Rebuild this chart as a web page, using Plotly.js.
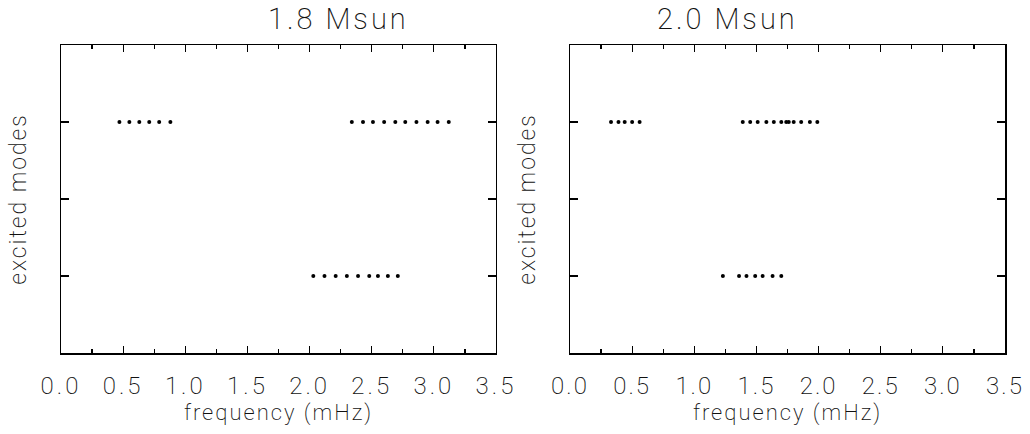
<!DOCTYPE html>
<html>
<head>
<meta charset="utf-8">
<script src="https://cdn.plot.ly/plotly-3.0.1.min.js"></script>
<style>
html,body{margin:0;padding:0;background:#fff;}
#chart{width:1030px;height:434px;}
#chart svg text{letter-spacing:2px;}
#chart svg .xtick text, #chart svg .annotation text{letter-spacing:3px;}
</style>
</head>
<body>
<div id="chart"></div>
<script>
// Panel titles
const panelTitles = ["1.8 Msun", "2.0 Msun"];

// 1.8 Msun: excited modes (frequency in mHz, mode level)
const m18_upper_freq = [0.47, 0.55, 0.63, 0.71, 0.79, 0.88,
                        2.34, 2.43, 2.51, 2.60, 2.69, 2.77, 2.86, 2.95, 3.03, 3.12];
const m18_upper_level = [3,3,3,3,3,3, 3,3,3,3,3,3,3,3,3,3];
const m18_lower_freq = [2.03, 2.12, 2.21, 2.30, 2.39, 2.48, 2.55, 2.63, 2.71];
const m18_lower_level = [1,1,1,1,1,1,1,1,1];

// 2.0 Msun
const m20_upper_freq = [0.33, 0.39, 0.44, 0.50, 0.56,
                        1.39, 1.45, 1.51, 1.58, 1.64, 1.70, 1.74, 1.76, 1.80, 1.86, 1.93, 1.99];
const m20_upper_level = [3,3,3,3,3, 3,3,3,3,3,3,3,3,3,3,3,3];
const m20_lower_freq = [1.23, 1.36, 1.42, 1.49, 1.55, 1.63, 1.70];
const m20_lower_level = [1,1,1,1,1,1,1];

const xTickVals = [0, 0.5, 1.0, 1.5, 2.0, 2.5, 3.0, 3.5];
const xTickText = ["0.0", "0.5", "1.0", "1.5", "2.0", "2.5", "3.0", "3.5"];
const yTickVals = [1, 2, 3];

const FONT = "Roboto, 'DejaVu Sans', sans-serif";
const TXT = "#111";
const marker = {color: "#000", size: 4, symbol: "circle"};

const traces = [
  {x: m18_upper_freq.concat(m18_lower_freq), y: m18_upper_level.concat(m18_lower_level),
   mode: "markers", type: "scatter", marker: marker, xaxis: "x", yaxis: "y", hoverinfo: "none"},
  {x: m20_upper_freq.concat(m20_lower_freq), y: m20_upper_level.concat(m20_lower_level),
   mode: "markers", type: "scatter", marker: marker, xaxis: "x2", yaxis: "y2", hoverinfo: "none"}
];

function xAxis(domain, anchor) {
  return {
    domain: domain, anchor: anchor, range: [0, 3.5], fixedrange: true,
    tickmode: "array", tickvals: xTickVals, ticktext: xTickText,
    ticks: "inside", ticklen: 7, tickwidth: 1.2, tickcolor: "#000",
    minor: {dtick: 0.25, ticks: "inside", ticklen: 4, tickwidth: 1.2, tickcolor: "#000", showgrid: false},
    showline: true, linecolor: "#000", linewidth: 1.5, mirror: "ticks",
    showgrid: false, zeroline: false,
    tickfont: {family: FONT, size: 24, color: TXT, weight: 200},
    ticklabelstandoff: 11,
    title: {text: "frequency (mHz)", font: {family: FONT, size: 22, color: TXT, weight: 200}, standoff: 4}
  };
}
function yAxis(anchor) {
  return {
    anchor: anchor, range: [0, 4], fixedrange: true,
    tickmode: "array", tickvals: yTickVals, showticklabels: false,
    ticks: "inside", ticklen: 8, tickwidth: 1.2, tickcolor: "#000",
    showline: true, linecolor: "#000", linewidth: 1.5, mirror: "ticks",
    showgrid: false, zeroline: false,
    title: {text: "excited modes", font: {family: FONT, size: 23, color: TXT, weight: 200}, standoff: 26}
  };
}

const d1 = [0, 0.4608], d2 = [0.5392, 1];
const layout = {
  width: 1030, height: 434,
  margin: {l: 61, r: 25, t: 45, b: 81},
  paper_bgcolor: "#fff", plot_bgcolor: "#fff",
  showlegend: false,
  xaxis: xAxis(d1, "y"), yaxis: yAxis("x"),
  xaxis2: xAxis(d2, "y2"), yaxis2: yAxis("x2"),
  annotations: [
    {text: panelTitles[0], xref: "paper", yref: "paper", x: (d1[0]+d1[1])/2, y: 1, yanchor: "bottom", yshift: 7,
     showarrow: false, font: {family: FONT, size: 29, color: TXT, weight: 200}},
    {text: panelTitles[1], xref: "paper", yref: "paper", x: (d2[0]+d2[1])/2, y: 1, yanchor: "bottom", yshift: 7,
     showarrow: false, font: {family: FONT, size: 29, color: TXT, weight: 200}}
  ]
};

Plotly.newPlot("chart", traces, layout, {staticPlot: true, displayModeBar: false});
</script>
</body>
</html>
